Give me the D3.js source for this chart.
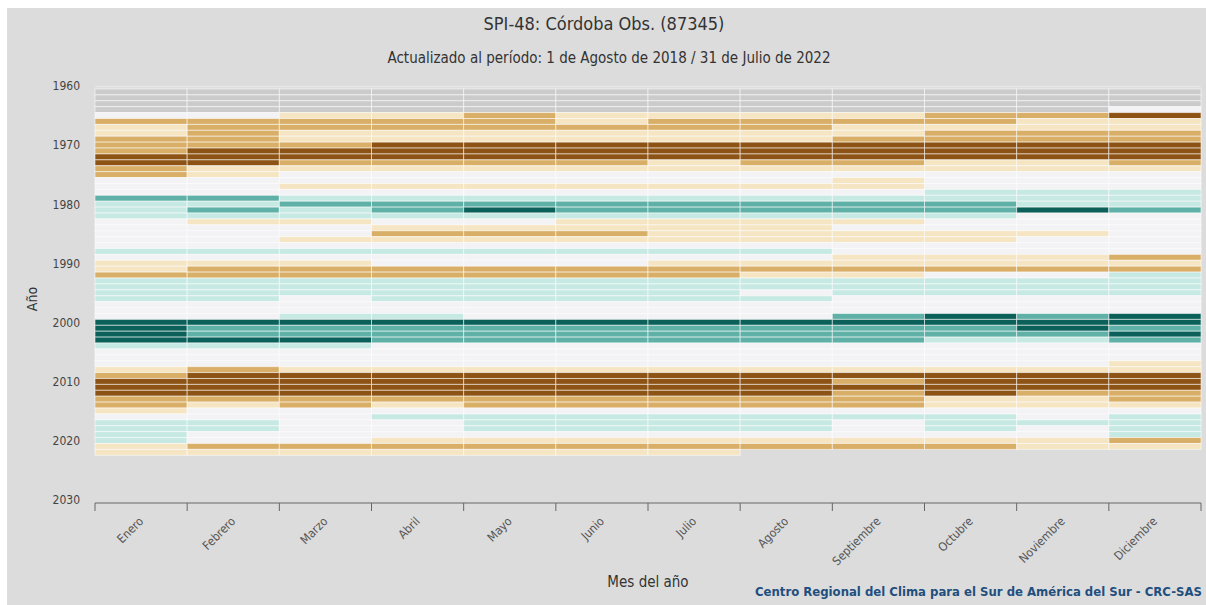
<!DOCTYPE html>
<html>
<head>
<meta charset="utf-8">
<script src="https://cdn.jsdelivr.net/npm/d3@7"></script>
<style>
  html, body { margin: 0; padding: 0; background: #ffffff; }
  svg { display: block; }
  text { font-family: "DejaVu Sans Condensed", "DejaVu Sans", sans-serif; font-stretch: condensed; }
</style>
</head>
<body>
<svg id="chart" width="1206" height="605"></svg>
<script>
// SPI-48 categories per month, one value per year starting 1961.
// -3 extremely dry ... 0 normal ... 3 extremely wet, null = no data.
const firstYear = 1961;
const months = ["Enero", "Febrero", "Marzo", "Abril", "Mayo", "Junio",
                "Julio", "Agosto", "Septiembre", "Octubre", "Noviembre", "Diciembre"];
const yearTicks = [1960, 1970, 1980, 1990, 2000, 2010, 2020, 2030];

const enero = [null,null,null,null, 0,-2,-1,-1,-2,-2, -2,-3,-3,-2,-2,0,0,0,2,1, 1,1,0,0,0,0,0,1,0,-1, -1,-2,1,1,1,1,0,0,0,3, 3,3,3,1,0,0,0,-1,-2,-3, -3,-3,-2,-2,-1,0,1,1,1,1, -1,-1];
const febrero = [null,null,null,null, 0,-2,-2,-2,-2,-2, -3,-3,-3,-1,-1,0,0,0,2,1, 2,1,-1,0,0,0,0,1,0,-1, -2,-2,1,1,1,1,0,0,0,3, 2,2,3,1,0,0,0,-2,-3,-3, -3,-3,-2,-1,0,0,1,1,0,0, -2,-1];
const marzo = [null,null,null,null, -1,-2,-2,-1,-1,-2, -3,-3,-2,-1,0,0,-1,0,1,2, 1,1,-1,0,0,-1,0,1,0,-1, -2,-2,1,1,1,0,0,0,1,3, 2,2,3,1,0,0,0,-1,-3,-3, -3,-3,-2,-2,0,0,0,0,0,0, -2,-1];
const abril = [null,null,null,null, -1,-2,-2,-1,-1,-3, -3,-3,-2,-1,0,0,-1,0,1,2, 2,1,0,-1,-2,-1,0,1,0,0, -2,-2,1,1,1,1,0,0,1,3, 2,2,2,0,0,0,0,-1,-3,-3, -3,-3,-2,-1,0,1,0,0,0,-1, -2,-1];
const mayo = [null,null,null,null, -2,-2,-2,-1,-1,-3, -3,-3,-2,-1,0,0,-1,0,1,2, 3,1,0,-1,-2,-1,0,1,0,0, -2,-2,1,1,1,1,0,0,0,3, 2,2,2,0,0,0,0,-1,-3,-3, -3,-3,-2,-2,0,1,1,1,0,-1, -2,-1];
const junio = [null,null,null,null, -1,-1,-2,-1,-1,-3, -3,-3,-2,-1,0,0,-1,0,1,2, 2,1,-1,-1,-2,-1,0,1,0,0, -2,-2,1,1,1,1,0,0,0,3, 2,2,2,0,0,0,0,-1,-3,-3, -3,-3,-2,-2,0,1,1,1,0,-1, -2,-1];
const julio = [null,null,null,null, -1,-2,-2,-1,-1,-3, -3,-3,-1,-1,0,0,-1,0,1,2, 2,1,-1,-1,-1,-1,0,1,0,-1, -2,-2,1,1,1,1,0,0,0,3, 2,2,2,0,0,0,0,-1,-3,-3, -3,-3,-2,-2,0,1,1,1,0,-1, -2,-1];
const agosto = [null,null,null,null, -1,-2,-2,-1,-1,-3, -3,-3,-2,-1,0,0,-1,0,1,2, 2,1,-1,-1,-1,-1,0,1,0,-1, -2,-1,1,1,0,1,0,0,0,3, 2,2,2,0,0,0,0,-1,-3,-3, -3,-3,-2,-2,0,1,1,1,0,-1, -2];
const septiembre = [null,null,null,null, -1,-2,-1,-1,-2,-3, -3,-3,-2,-1,0,-1,-1,0,1,2, 2,1,-1,0,-1,-1,0,0,-1,-1, -2,-1,1,1,1,0,0,0,2,3, 2,2,2,0,0,0,0,-1,-3,-2, -3,-2,-2,-2,0,1,0,0,0,-1, -2];
const octubre = [null,null,null,null, -2,-2,-1,-2,-2,-3, -3,-3,-1,-1,0,0,0,1,1,2, 2,1,0,0,-1,-1,0,0,-1,-1, -2,0,1,1,1,0,0,0,3,3, 2,2,1,0,0,0,0,-1,-3,-3, -3,-3,-1,-1,0,1,1,1,0,-1, -2];
const noviembre = [null,null,null,null, -2,-1,-1,-2,-2,-3, -3,-3,-1,-1,0,0,0,1,1,1, 3,0,0,0,-1,0,0,0,-1,-1, -2,0,1,1,1,0,0,0,2,3, 3,2,1,0,0,0,0,-1,-3,-3, -3,-2,-1,-1,0,0,1,0,0,-1, -1];
const diciembre = [null,null,null,0, -3,-1,-1,-2,-2,-3, -3,-3,-2,-1,0,0,0,1,1,1, 2,0,0,0,0,0,0,0,-2,-1, -2,1,1,1,1,0,0,0,3,3, 2,3,2,0,0,0,-1,-1,-3,-3, -3,-2,-2,-1,0,1,1,1,1,-2, -1];

const monthValues = [enero, febrero, marzo, abril, mayo, junio,
                     julio, agosto, septiembre, octubre, noviembre, diciembre];

const categories = [-3, -2, -1, 0, 1, 2, 3];
const categoryColors = ["#8c5314", "#d9ae67", "#f5e5c2", "#f3f3f5", "#c7e9e3", "#5fb1a7", "#0b615a"];
const noDataColor = "#cbcbcb";

const W = 1206, H = 605;
const svg = d3.select("#chart");

// panel background
svg.append("rect").attr("x", 7).attr("y", 8).attr("width", W - 7).attr("height", H - 8)
  .attr("fill", "#dcdcdc");

const x = d3.scaleBand().domain(months).range([95, 1201]);
const y = d3.scaleLinear().domain([1960, 2030]).range([86, 499.6]);
const color = d3.scaleOrdinal().domain(categories).range(categoryColors);

// titles
svg.append("text").attr("x", 604).attr("y", 30).attr("text-anchor", "middle")
  .attr("font-size", 18).attr("fill", "#333").text("SPI-48: Córdoba Obs. (87345)");
svg.append("text").attr("x", 609).attr("y", 63).attr("text-anchor", "middle")
  .attr("font-size", 15).attr("fill", "#333")
  .text("Actualizado al período: 1 de Agosto de 2018 / 31 de Julio de 2022");

// faint top grid line
svg.append("line").attr("x1", 95).attr("x2", 1201).attr("y1", y(1960) + 0.5).attr("y2", y(1960) + 0.5)
  .attr("stroke", "#e8e8e8").attr("stroke-width", 1);

// cells
const cells = [];
monthValues.forEach((vals, mi) => {
  vals.forEach((v, i) => cells.push({ month: months[mi], year: firstYear + i, value: v }));
});

svg.append("g").selectAll("rect").data(cells).join("rect")
  .attr("x", d => x(d.month))
  .attr("width", x.bandwidth())
  .attr("y", d => y(d.year - 0.5))
  .attr("height", d => y(d.year + 0.5) - y(d.year - 0.5))
  .attr("fill", d => d.value === null ? noDataColor : color(d.value))
  .attr("stroke", "rgba(255,255,255,0.55)")
  .attr("stroke-width", 1);

// y axis labels
const yAxis = d3.axisLeft(y).tickValues(yearTicks).tickFormat(d3.format("d")).tickSize(0).tickPadding(15);
const gy = svg.append("g").attr("transform", "translate(95,0)").call(yAxis);
gy.select(".domain").remove();
gy.selectAll("text").attr("font-size", 12).attr("fill", "#444")
  .style("font-family", "'DejaVu Sans', sans-serif");

// x axis
const axisY = 503;
const xAxis = d3.axisBottom(x).tickSize(8).tickFormat(d => d);
const gx = svg.append("g").attr("transform", `translate(0,${axisY})`).call(xAxis);
gx.select(".domain").attr("stroke", "#666").attr("d", `M95,0H1201`);
gx.selectAll(".tick line").attr("stroke", "#666").attr("transform", `translate(${-x.bandwidth() / 2},0)`);
gx.append("line").attr("x1", 1201).attr("x2", 1201).attr("y1", 0).attr("y2", 8).attr("stroke", "#666");
gx.selectAll(".tick text")
  .attr("font-size", 12).attr("fill", "#555")
  .attr("text-anchor", "end")
  .attr("x", 0).attr("y", 0).attr("dy", 0)
  .attr("transform", "translate(3,19) rotate(-45)")
  .style("font-family", "'DejaVu Sans', sans-serif");

// axis titles
svg.append("text").attr("transform", "translate(37,299) rotate(-90)").attr("text-anchor", "middle")
  .attr("font-size", 14).attr("fill", "#333").text("Año");
svg.append("text").attr("x", 648).attr("y", 587).attr("text-anchor", "middle")
  .attr("font-size", 15).attr("fill", "#333").text("Mes del año");

// credits
svg.append("text").attr("x", 1202).attr("y", 596).attr("text-anchor", "end")
  .attr("font-size", 13).attr("font-weight", "bold").attr("fill", "#1f4f7f")
  .text("Centro Regional del Clima para el Sur de América del Sur - CRC-SAS");
</script>
</body>
</html>
